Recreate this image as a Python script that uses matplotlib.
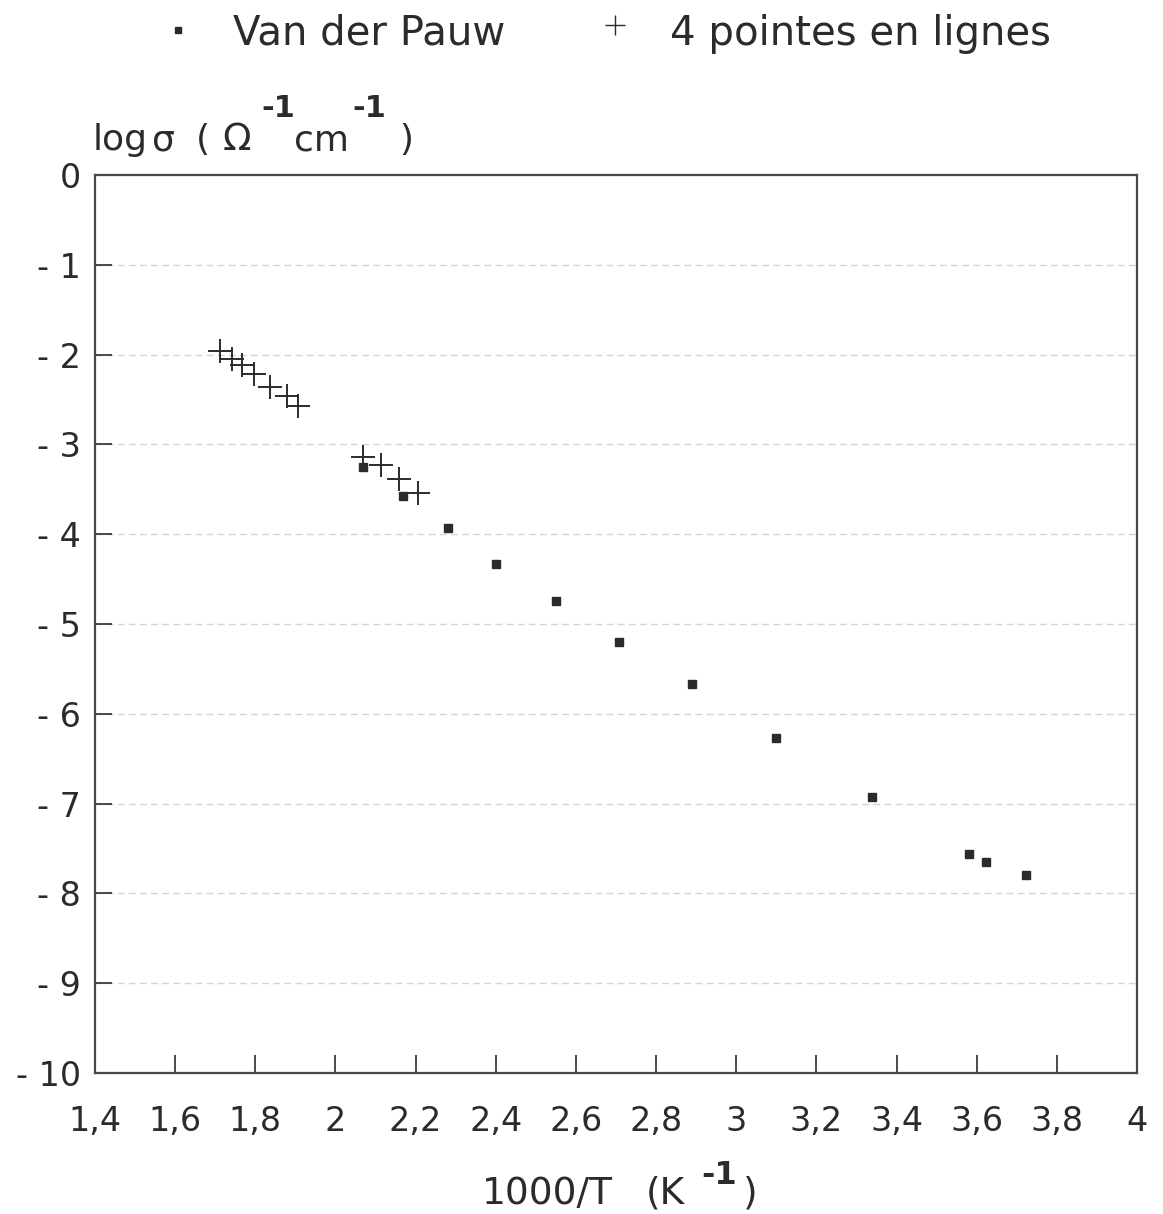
import matplotlib
matplotlib.use("Agg")
import matplotlib.pyplot as plt

# --- data -----------------------------------------------------------------
vdp_x = [2.068, 2.169, 2.28, 2.40, 2.55, 2.708, 2.889, 3.099, 3.338, 3.581, 3.622, 3.723]
vdp_y = [-3.25, -3.57, -3.93, -4.33, -4.74, -5.20, -5.67, -6.27, -6.93, -7.56, -7.65, -7.80]

four_x = [1.712, 1.741, 1.767, 1.797, 1.837, 1.878, 1.907, 2.068, 2.113, 2.158, 2.207]
four_y = [-1.96, -2.05, -2.12, -2.22, -2.36, -2.46, -2.57, -3.14, -3.23, -3.38, -3.54]

x_ticks = [1.4, 1.6, 1.8, 2.0, 2.2, 2.4, 2.6, 2.8, 3.0, 3.2, 3.4, 3.6, 3.8, 4.0]
x_labels = ["1,4", "1,6", "1,8", "2", "2,2", "2,4", "2,6", "2,8", "3",
            "3,2", "3,4", "3,6", "3,8", "4"]
y_ticks = list(range(0, -11, -1))
y_labels = ["0"] + [f"- {abs(v)}" for v in y_ticks[1:]]

INK = "#2b2b2b"
plt.rcParams["font.family"] = ["DejaVu Sans"]

fig = plt.figure(figsize=(11.63, 12.14), dpi=100)
ax = fig.add_axes([0.0817, 0.1161, 0.896, 0.7397])

# faint dotted grid lines at each decade
for v in y_ticks[1:-1]:
    ax.axhline(v, color="#d4d4d4", lw=1.0, ls=(0, (5, 3)), zorder=0)

ax.plot(vdp_x, vdp_y, ls="none", marker="s", ms=5.5, color=INK, mec=INK)
ax.plot(four_x, four_y, ls="none", marker="+", ms=17, mew=1.4, color=INK)

ax.set_xlim(1.4, 4.0)
ax.set_ylim(-10, 0)
ax.set_xticks(x_ticks)
ax.set_xticklabels(x_labels)
ax.set_yticks(y_ticks)
ax.set_yticklabels(y_labels)
ax.tick_params(axis="x", direction="in", length=13, width=1.2, color=INK,
               labelsize=24, pad=23, labelcolor=INK, top=False)
ax.tick_params(axis="y", direction="in", length=12, width=1.2, color=INK,
               labelsize=24, pad=10, labelcolor=INK, right=False)
for s in ax.spines.values():
    s.set_color("#484848")
    s.set_linewidth(1.6)

# y axis title above the plot, with raised exponents
BASE, SUP = 0.8764, 0.9036
fig.text(0.080, BASE, "log", fontsize=26, color=INK, va="baseline")
fig.text(0.131, BASE, "σ", fontsize=26, color=INK, va="baseline")
fig.text(0.168, BASE, "(", fontsize=26, color=INK, va="baseline")
fig.text(0.191, BASE, "Ω", fontsize=27, color=INK, va="baseline")
fig.text(0.225, SUP, "-1", fontsize=22, fontweight="bold", color=INK, va="baseline")
fig.text(0.253, BASE, "cm", fontsize=26, color=INK, va="baseline")
fig.text(0.303, SUP, "-1", fontsize=22, fontweight="bold", color=INK, va="baseline")
fig.text(0.343, BASE, ")", fontsize=26, color=INK, va="baseline")

# x axis title
XB, XS = 0.0085, 0.0245
fig.text(0.414, XB, "1000/T", fontsize=27, color=INK, va="baseline")
fig.text(0.555, XB, "(K", fontsize=27, color=INK, va="baseline")
fig.text(0.603, XS, "-1", fontsize=23, fontweight="bold", color=INK, va="baseline")
fig.text(0.639, XB, ")", fontsize=27, color=INK, va="baseline")

# legend line above the plot
fig.text(0.200, 0.963, "Van der Pauw", fontsize=29, color=INK, va="baseline")
fig.text(0.576, 0.963, "4 pointes en lignes", fontsize=29, color=INK, va="baseline")
fig.lines.append(plt.Line2D([0.153], [0.975], transform=fig.transFigure,
                            marker="s", ms=4.5, color=INK, ls="none"))
fig.lines.append(plt.Line2D([0.529], [0.979], transform=fig.transFigure,
                            marker="+", ms=14, mew=1.0, color=INK, ls="none"))

fig.savefig("out.png", dpi=100)
